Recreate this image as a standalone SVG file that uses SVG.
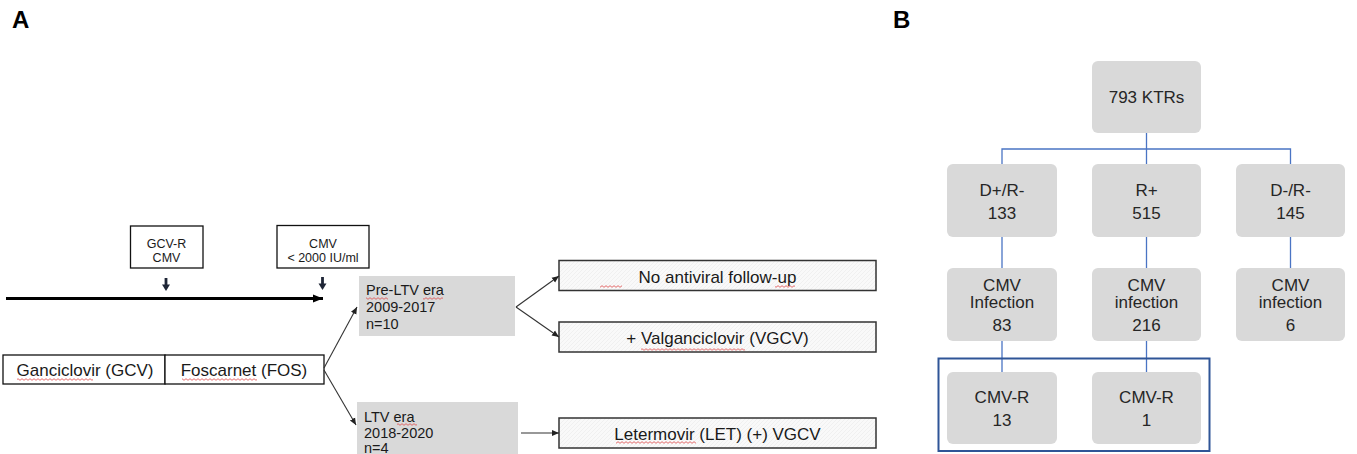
<svg xmlns="http://www.w3.org/2000/svg" width="1357" height="454" viewBox="0 0 1357 454">
<style>
text{font-family:"Liberation Sans",Arial,sans-serif;fill:#1a1a1a}
.lbl{font-size:24px;font-weight:bold;fill:#000}
.sm{font-size:12.5px;text-anchor:middle}
.md{font-size:17px;text-anchor:middle}
.era{font-size:14.5px}
.b{font-size:17px;text-anchor:middle;fill:#262626}
.box{fill:#fff;stroke:#111;stroke-width:1.3}
.gray{fill:#d9d9d9}
.res{fill:url(#hatch);stroke:#333;stroke-width:1.5}
.rb{fill:#d9d9d9}
.conn{stroke:#333;stroke-width:1.1;fill:none}
.tree{stroke:#4a74c4;stroke-width:1.3;fill:none}
.sq{fill:url(#squig)}
.dn{stroke:#1e2536;stroke-width:2.8}
.dnh{fill:#1e2536}
</style>
<defs>
<pattern id="hatch" patternUnits="userSpaceOnUse" width="4" height="4">
<rect width="4" height="4" fill="#f9f9f9"/>
<path d="M0 4 L4 0" stroke="#ececec" stroke-width="0.7"/>
</pattern>
<pattern id="squig" patternUnits="userSpaceOnUse" width="4" height="3">
<path d="M0 2.3 L2 0.7 L4 2.3" stroke="#e04a4a" stroke-width="0.8" fill="none"/>
</pattern>
<marker id="ah" markerWidth="8" markerHeight="8" refX="7" refY="4" orient="auto" markerUnits="userSpaceOnUse">
<path d="M0 1 L7 4 L0 7 Z" fill="#222"/>
</marker>
<marker id="ahb" markerWidth="12" markerHeight="10" refX="10" refY="5" orient="auto" markerUnits="userSpaceOnUse">
<path d="M0 1 L10 5 L0 9 Z" fill="#000"/>
</marker>
</defs>

<text class="lbl" x="12" y="28">A</text>
<text class="lbl" x="893" y="28">B</text>

<!-- Panel A -->
<g id="timeline">
<line x1="6" y1="298.5" x2="323" y2="298.5" stroke="#000" stroke-width="3" marker-end="url(#ahb)"/>
</g>
<g id="gcvr">
<rect class="box" x="130.5" y="226" width="72.5" height="42"/>
<text class="sm" x="166.5" y="248">GCV-R</text>
<text class="sm" x="166.5" y="262">CMV</text>
<path class="dn" d="M166 278 V285.5"/>
<path class="dnh" d="M162 284.5 L170 284.5 L166 291 Z"/>
</g>
<g id="cmv2000">
<rect class="box" x="277" y="225.5" width="92" height="42.5"/>
<text class="sm" x="323" y="248">CMV</text>
<text class="sm" x="323" y="262">&lt; 2000 IU/ml</text>
<path class="dn" d="M322.5 277 V284.5"/>
<path class="dnh" d="M318.5 283.5 L326.5 283.5 L322.5 290 Z"/>
</g>
<g id="gcv">
<rect class="box" x="3" y="355" width="162" height="29"/>
<text class="md" x="85" y="376">Ganciclovir (GCV)</text>
<rect class="sq" x="17" y="378" width="76" height="3"/>
</g>
<g id="fos">
<rect class="box" x="165" y="355" width="159" height="29"/>
<text class="md" x="244" y="376">Foscarnet (FOS)</text>
<rect class="sq" x="182" y="378" width="75" height="3"/>
</g>
<g id="preltv">
<rect class="gray" x="359" y="276" width="156" height="60"/>
<text class="era" x="366" y="294.5">Pre-LTV era</text>
<text class="era" x="366" y="311.8">2009-2017</text>
<text class="era" x="366" y="328.8">n=10</text>
<rect class="sq" x="366" y="297" width="22" height="3"/>
<rect class="sq" x="423" y="297" width="20" height="3"/>
</g>
<g id="ltv">
<rect class="gray" x="357" y="402" width="161" height="52"/>
<text class="era" x="364" y="422">LTV era</text>
<text class="era" x="364" y="437.7">2018-2020</text>
<text class="era" x="364" y="453">n=4</text>
<rect class="sq" x="397" y="423" width="20" height="3"/>
</g>
<g id="noav">
<rect class="res" x="559" y="260.5" width="317" height="30"/>
<text class="md" x="717.5" y="282.5">No antiviral follow-up</text>
<rect class="sq" x="600" y="285" width="22" height="3"/>
<rect class="sq" x="775" y="285" width="20" height="3"/>
</g>
<g id="vgcv">
<rect class="res" x="559" y="322" width="317" height="30"/>
<text class="md" x="717.5" y="344">+ Valganciclovir (VGCV)</text>
<rect class="sq" x="641" y="348" width="104" height="3"/>
</g>
<g id="let">
<rect class="res" x="559" y="418" width="317" height="30"/>
<text class="md" x="717.5" y="440">Letermovir (LET) (+) VGCV</text>
<rect class="sq" x="616" y="441" width="80" height="3"/>
</g>

<g id="connectors-a">
<line class="conn" x1="324" y1="368" x2="357" y2="307" marker-end="url(#ah)"/>
<line class="conn" x1="324" y1="370" x2="356" y2="425" marker-end="url(#ah)"/>
<line class="conn" x1="516" y1="307" x2="559" y2="276" marker-end="url(#ah)"/>
<line class="conn" x1="516" y1="307" x2="559" y2="337" marker-end="url(#ah)"/>
<line class="conn" x1="521" y1="433" x2="559" y2="433" marker-end="url(#ah)"/>
</g>

<!-- Panel B -->
<g id="connectors-b">
<path class="tree" d="M1146.5 133 V164 M1002 164 V149 H1290.5 V164"/>
<path class="tree" d="M1002 237 V268 M1146.5 237 V268 M1290.5 237 V268"/>
<path class="tree" d="M1002 341 V372 M1146.5 341 V372"/>
</g>
<g id="ktrs">
<rect class="rb" x="1092" y="61" width="109" height="72" rx="6"/>
<text class="b" x="1146.5" y="103">793 KTRs</text>
</g>
<g id="dprm">
<rect class="rb" x="947" y="164" width="110" height="73" rx="6"/>
<text class="b" x="1002" y="196">D+/R-</text>
<text class="b" x="1002" y="218.7">133</text>
</g>
<g id="rp">
<rect class="rb" x="1092" y="164" width="109" height="73" rx="6"/>
<text class="b" x="1146.5" y="196">R+</text>
<text class="b" x="1146.5" y="218.7">515</text>
</g>
<g id="dmrm">
<rect class="rb" x="1236" y="164" width="109" height="73" rx="6"/>
<text class="b" x="1290.5" y="196">D-/R-</text>
<text class="b" x="1290.5" y="218.7">145</text>
</g>
<g id="inf1">
<rect class="rb" x="947" y="268" width="110" height="73" rx="6"/>
<text class="b" x="1002" y="291">CMV</text>
<text class="b" x="1002" y="307.5">Infection</text>
<text class="b" x="1002" y="331">83</text>
</g>
<g id="inf2">
<rect class="rb" x="1092" y="268" width="109" height="73" rx="6"/>
<text class="b" x="1146.5" y="291">CMV</text>
<text class="b" x="1146.5" y="307.5">infection</text>
<text class="b" x="1146.5" y="331">216</text>
</g>
<g id="inf3">
<rect class="rb" x="1236" y="268" width="109" height="73" rx="6"/>
<text class="b" x="1290.5" y="291">CMV</text>
<text class="b" x="1290.5" y="307.5">infection</text>
<text class="b" x="1290.5" y="331">6</text>
</g>
<g id="res-group">
<rect x="938.5" y="358.5" width="271" height="92.5" fill="none" stroke="#2f5597" stroke-width="2"/>
</g>
<g id="r1">
<rect class="rb" x="947" y="372" width="110" height="72" rx="6"/>
<text class="b" x="1002" y="402.7">CMV-R</text>
<text class="b" x="1002" y="426">13</text>
</g>
<g id="r2">
<rect class="rb" x="1092" y="372" width="109" height="72" rx="6"/>
<text class="b" x="1146.5" y="402.7">CMV-R</text>
<text class="b" x="1146.5" y="426">1</text>
</g>
</svg>
